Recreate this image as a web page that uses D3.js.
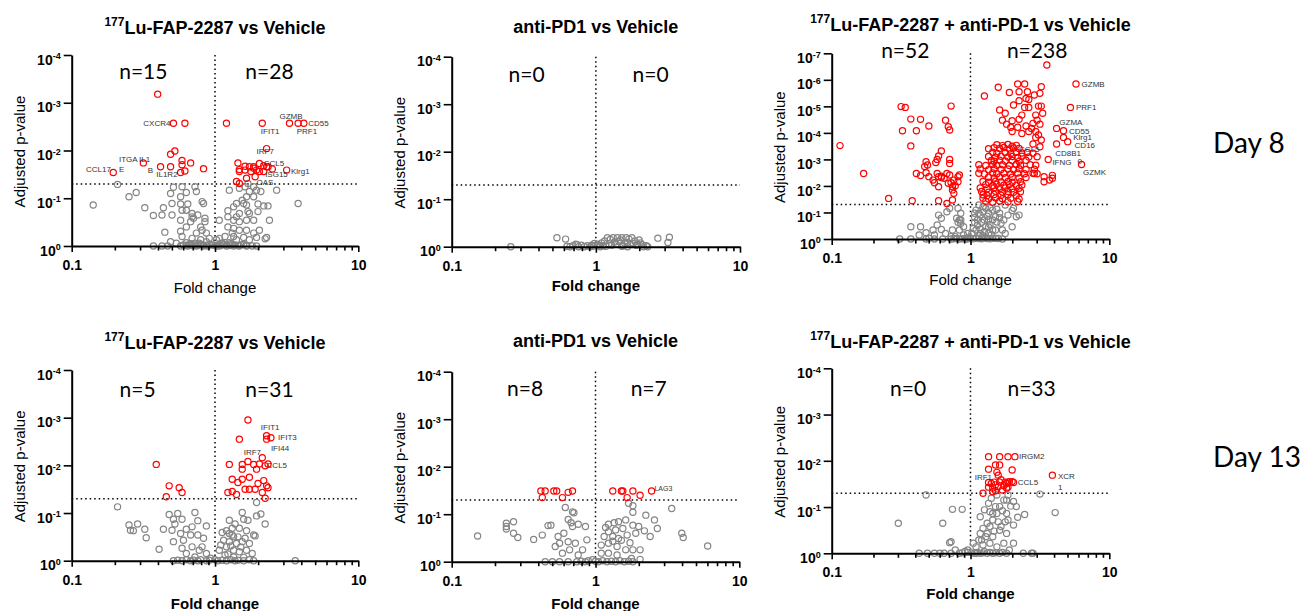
<!DOCTYPE html>
<html>
<head>
<meta charset="utf-8">
<script src="https://cdn.jsdelivr.net/npm/d3@7"></script>
<style>
  body { margin: 0; background: #fff; }
  svg { display: block; }
  .tick text { font-family: "Liberation Sans", Arial, sans-serif; font-weight: bold; }
</style>
</head>
<body>
<svg width="1311" height="611"></svg>
<script>

// values are [log10 fold change, -log10 adjusted p-value]

// ---- Day 8, 177Lu-FAP-2287 vs Vehicle
var d8_lu_sig = [
  [-0.40,3.18],[-0.29,2.57],[-0.21,2.57],[-0.28,1.99],[-0.31,1.92],[-0.23,1.79],[-0.23,1.70],[-0.17,1.74],
  [-0.31,1.66],[-0.38,1.66],[-0.50,1.74],[-0.71,1.54],[-0.21,1.57],[-0.24,1.54],[-0.08,1.62],
  [0.08,2.57],[0.33,2.57],[0.52,2.57],[0.58,2.57],[0.62,2.57],[0.36,2.04],[0.16,1.74],[0.21,1.67],
  [0.24,1.66],[0.27,1.66],[0.31,1.73],[0.34,1.68],[0.37,1.66],[0.40,1.61],[0.29,1.59],[0.25,1.56],
  [0.21,1.59],[0.17,1.60],[0.17,1.56],[0.31,1.56],[0.34,1.56],[0.50,1.59],[0.22,1.42],[0.15,1.35],
  [0.17,1.31],[0.28,1.45],[0.27,1.63],[0.36,1.66]
];
var d8_lu_ns = [
  [-0.68,1.29],[-0.60,1.03],[-0.55,1.12],[-0.85,0.86],[-0.49,0.80],[-0.43,0.64],[-0.36,0.80],[-0.31,1.10],
  [-0.29,1.23],[-0.23,1.24],[-0.20,1.12],[-0.24,1.03],[-0.30,0.89],[-0.24,0.88],[-0.19,0.88],[-0.13,1.14],
  [-0.14,1.24],[-0.09,0.93],[-0.08,0.89],[-0.23,0.75],[-0.20,0.75],[-0.16,0.68],[-0.15,0.58],[-0.17,0.51],
  [-0.24,0.54],[-0.30,0.65],[-0.37,0.65],[-0.35,0.29],[-0.24,0.31],[-0.20,0.40],[-0.23,0.20],[-0.16,0.16],
  [-0.13,0.27],[-0.09,0.33],[-0.07,0.51],[-0.07,0.58],[-0.06,0.09],[-0.10,0.13],[-0.14,0.06],[-0.20,0.07],
  [-0.27,0.06],[-0.31,0.09],[-0.33,0],[-0.37,0],[-0.43,0],[-0.24,0],[-0.19,0],[-0.13,0],[-0.08,0],[-0.05,0],
  [-0.16,0.61],[-0.12,0.65],[-0.10,0.40],[-0.06,0.27],[-0.04,0.16],
  [0.10,1.17],[0.17,1.21],[0.21,1.24],[0.23,1.31],[0.27,1.24],[0.29,1.17],[0.32,1.14],[0.24,1.14],
  [0.22,1.03],[0.19,0.96],[0.15,0.89],[0.20,0.89],[0.27,1.03],[0.30,0.88],[0.34,0.84],[0.37,0.84],
  [0.43,1.17],[0.58,0.89],[0.30,0.72],[0.23,0.72],[0.22,0.86],[0.13,0.82],[0.09,0.74],[0.22,0.54],
  [0.17,0.51],[0.13,0.54],[0.03,0.54],[0.09,0.40],[0.13,0.37],[0.17,0.33],[0.22,0.33],[0.27,0.27],
  [0.31,0.33],[0.38,0.54],[0.27,0.54],[0.24,0.68],[0.17,0.68],[0.12,0.27],[0.07,0.20],[0.03,0.16],
  [0.01,0.13],[0.05,0.06],[0.10,0.07],[0.15,0.13],[0.20,0.18],[0.24,0.13],[0.13,0.20],[0.29,0.18],
  [0.36,0.18],[0.35,0.15],[0.15,0.61],[0.09,0.61],[0.03,0],[0.08,0],[0.13,0],[0.17,0],[0.22,0],
  [0.26,0],[0.29,0],[0.01,0],
  [-0.22,0.02],[-0.20,0.01],[-0.18,0.03],[-0.16,0.01],[-0.14,0.02],[-0.12,0.01],[-0.10,0.03],[-0.08,0.02],
  [-0.06,0.01],[-0.04,0.03],[-0.02,0.02],[0.00,0.01],[0.02,0.02],[0.04,0.01],[0.06,0.03],[0.08,0.02],
  [0.10,0.01],[0.12,0.03],[0.14,0.02],[0.16,0.01],[0.18,0.02],[0.20,0.03],[0.22,0.01],[0.11,0.05],
  [0.05,0.06],[-0.11,0.06],[-0.17,0.05]
];
var d8_lu_labels = [
  ["CXCR4",-0.50,2.58],["GZMB",0.45,2.71],["CD55",0.65,2.58],["IFIT1",0.32,2.41],["PRF1",0.57,2.41],
  ["IRF7",0.29,1.99],["CCL5",0.34,1.73],["ISG15",0.35,1.50],["OAS",0.29,1.33],["Klrg1",0.53,1.56],
  ["ITGA",-0.67,1.81],["E",-0.67,1.61],["IL1",-0.53,1.81],["B",-0.47,1.59],["CCL17",-0.90,1.61],
  ["IL1R2",-0.41,1.51]
];

// ---- Day 8, anti-PD1 vs Vehicle
var d8_pd1_sig = [];
var d8_pd1_ns = [
  [-0.59,0],[-0.27,0.19],[-0.21,0.16],[-0.16,0.02],[-0.14,0.05],[-0.12,0],[-0.10,0.03],[-0.08,0],
  [-0.06,0.02],[-0.04,0],[-0.02,0.01],[0.02,0.03],[0.04,0.08],[0.06,0.12],[0.08,0.19],[0.10,0.15],
  [0.12,0.19],[0.13,0.10],[0.15,0.19],[0.17,0.14],[0.18,0.19],[0.20,0.08],[0.21,0.19],[0.23,0.16],
  [0.24,0.05],[0.25,0.19],[0.27,0.12],[0.28,0.03],[0.30,0.14],[0.31,0.08],[0.33,0],[0.35,0.02],
  [0.36,0],[0.43,0.18],[0.50,0.09],[0.51,0.20],[0.14,0.05],[0.09,0.06],[0.07,0.01],[0.19,0.02],
  [0.22,0.09],[0.26,0.07],[0.11,0.03],[0.16,0.11],[0.03,0],[0.05,0.02],[0.01,0.05],[-0.01,0.07],
  [-0.03,0.03],[0.29,0.05],[-0.18,0],[-0.20,0.01],[-0.13,0.04],[0.18,0.01],[0.22,0],[0.32,0.04]
];
var d8_pd1_labels = [];

// ---- Day 8, 177Lu-FAP-2287 + anti-PD-1 vs Vehicle
var d8_combo_sig = [
  [-0.94,3.52],[-0.77,2.47],[-0.59,1.53],[-0.49,4.08],[-0.50,4.99],[-0.47,4.96],[-0.43,3.51],[-0.39,4.08],
  [-0.43,4.52],[-0.36,4.51],[-0.30,4.26],[-0.18,4.48],[-0.14,5.01],[-0.16,4.23],[-0.15,4.11],[-0.21,3.32],
  [-0.23,3.13],[-0.24,3.00],[-0.15,3.00],[-0.15,2.85],[-0.32,2.91],[-0.31,2.79],[-0.33,2.73],[-0.36,2.39],
  [-0.32,2.50],[-0.30,2.35],[-0.26,2.12],[-0.24,2.47],[-0.23,2.35],[-0.21,2.32],[-0.17,2.47],[-0.15,2.41],
  [-0.14,2.12],[-0.09,2.35],[-0.08,2.41],[-0.09,2.16],[-0.11,2.01],[-0.13,1.85],[-0.12,1.72],[-0.16,2.10],
  [-0.23,1.97],[-0.21,2.37],[-0.42,1.44],[-0.23,1.44],[-0.17,1.34],[-0.13,1.47],[-0.39,2.47],[-0.27,2.22],
  [-0.12,2.22],[-0.19,2.29],[-0.13,1.97],[-0.25,2.88],
  [0.55,6.56],[0.76,5.84],[0.72,4.96],[0.62,4.17],[0.67,4.08],[0.67,3.83],[0.70,3.67],[0.62,3.58],
  [0.56,3.00],[0.80,2.81],[0.20,5.72],[0.34,5.84],[0.39,5.84],[0.28,5.52],[0.35,5.55],[0.51,5.74],
  [0.41,5.55],[0.46,5.43],[0.50,5.49],[0.10,5.39],[0.40,5.30],[0.42,5.26],[0.35,5.21],[0.31,5.05],
  [0.21,4.86],[0.25,4.74],[0.23,4.48],[0.30,4.46],[0.35,4.51],[0.42,4.96],[0.49,5.01],[0.51,5.01],
  [0.52,4.74],[0.47,4.67],[0.39,4.96],[0.37,4.67],[0.48,4.48],[0.45,4.36],[0.50,4.33],[0.44,4.17],
  [0.47,4.05],[0.40,4.26],[0.34,4.21],[0.30,4.05],[0.26,4.33],[0.29,4.21],[0.49,3.92],[0.47,3.83],
  [0.50,3.48],[0.51,3.73],[0.45,3.58],[0.37,3.98],[0.42,4.05],
  [0.19,3.55],[0.23,3.52],[0.27,3.56],[0.30,3.50],[0.33,3.53],
  [0.13,3.40],[0.17,3.44],[0.21,3.41],[0.24,3.45],[0.28,3.39],[0.31,3.43],[0.35,3.41],
  [0.16,3.27],[0.19,3.23],[0.25,3.26],[0.29,3.22],[0.33,3.27],[0.37,3.24],[0.41,3.26],[0.45,3.23],
  [0.13,3.11],[0.18,3.08],[0.22,3.12],[0.27,3.09],[0.30,3.11],[0.34,3.07],[0.37,3.12],[0.42,3.09],[0.48,3.10],
  [0.15,2.96],[0.17,2.93],[0.21,2.97],[0.25,2.94],[0.30,2.96],[0.35,2.93],[0.40,2.97],
  [0.06,2.80],[0.11,2.77],[0.16,2.81],[0.19,2.78],[0.23,2.80],[0.28,2.77],[0.33,2.81],[0.36,2.78],[0.43,2.80],[0.47,2.78],
  [0.07,2.64],[0.13,2.61],[0.17,2.65],[0.22,2.62],[0.27,2.64],[0.31,2.61],[0.35,2.65],[0.40,2.62],[0.46,2.63],
  [0.06,2.48],[0.10,2.45],[0.16,2.49],[0.19,2.46],[0.24,2.48],[0.29,2.45],[0.34,2.49],[0.39,2.46],[0.45,2.48],[0.48,2.46],
  [0.13,2.33],[0.17,2.30],[0.21,2.34],[0.25,2.31],[0.30,2.33],[0.35,2.30],[0.40,2.32],
  [0.09,2.17],[0.13,2.14],[0.18,2.18],[0.22,2.15],[0.27,2.17],[0.30,2.14],[0.36,2.16],
  [0.11,2.05],[0.16,2.02],[0.19,2.06],[0.24,2.03],[0.28,2.05],[0.33,2.02],[0.37,2.04],
  [0.07,1.92],[0.12,1.89],[0.17,1.93],[0.21,1.90],[0.25,1.92],[0.30,1.89],[0.35,1.91],
  [0.08,1.79],[0.13,1.76],[0.18,1.80],[0.23,1.77],[0.27,1.79],[0.31,1.76],[0.36,1.78],
  [0.09,1.67],[0.12,1.64],[0.17,1.68],[0.22,1.65],[0.27,1.67],[0.33,1.64],
  [0.09,1.54],[0.13,1.51],[0.18,1.55],[0.23,1.52],[0.29,1.54],[0.35,1.51],
  [0.11,1.42],[0.16,1.39],[0.21,1.43],[0.27,1.40],[0.34,1.41],
  [0.53,2.35],[0.53,2.16],[0.57,2.22],[0.59,2.29],[0.59,2.40],[0.46,2.47]
];
var d8_combo_ns = [
  [-0.51,0],[-0.43,0],[-0.32,0],[-0.26,0],[-0.20,0],[-0.14,0],[-0.08,0],[-0.03,0],[-0.36,0.46],[-0.32,0.24],
  [-0.27,0.34],[-0.24,0.53],[-0.21,0.78],[-0.17,1.03],[-0.15,1.16],[-0.23,0.90],[-0.09,1.16],[-0.08,0.72],
  [-0.07,0.97],[-0.07,0.59],[-0.08,0.34],[-0.13,0.34],[-0.18,0.21],[-0.21,0.36],[-0.26,0.15],[-0.30,0.03],
  [-0.14,0.09],[-0.05,0.15],[-0.02,0.21],[-0.05,0.46],[-0.37,0.15],[-0.43,0.46],[-0.10,0.78],[-0.07,0.72],
  [-0.09,0.63],[-0.11,0.09],[-0.01,0.06],
  [0.06,1.28],[0.09,1.22],[0.11,1.16],[0.13,0.97],[0.16,1.09],[0.18,0.84],[0.21,0.97],[0.24,0.72],
  [0.25,0.21],[0.30,0.46],[0.33,0.84],[0.35,0.90],[0.30,1.07],[0.16,0.72],[0.11,0.46],[0.07,0.21],
  [0.04,0.03],[0.09,0.03],[0.16,0.03],[0.23,0],[0.13,0.21],[0.18,0.34],[0.23,0.34],[0.04,0.34],
  [0.05,0.72],[0.03,0.97],[0.07,0.90],[0.25,1.28],[0.31,1.16],[0.27,0.90],[0.22,0.59],[0.16,0.34],
  [0.13,0.72],[0.10,0.72],[0.06,0.97],[0.04,1.09],[0.01,0.21],[0.18,0.03],[0.11,0.06],
  [-0.12,0.01],[-0.10,0.02],[-0.06,0.01],[-0.04,0.02],[-0.02,0.01],[0.00,0.02],[0.02,0.01],[0.06,0.02],
  [0.08,0.01],[0.12,0.02],[0.14,0.01],[0.20,0.02],[0.09,0.12],[0.02,0.40],[0.14,0.55],[0.19,0.64],
  [0.03,0.62],[0.05,0.52],[0.08,0.63],[0.07,0.37],[0.10,0.28],[0.12,0.86],[0.09,1.02],[0.14,1.18],
  [0.19,1.12],[0.03,0.81],[0.06,0.12],[0.13,0.45],[0.21,0.80],[0.15,0.16]
];
var d8_combo_labels = [
  ["GZMB",0.80,5.84],["PRF1",0.76,4.95],["GZMA",0.64,4.40],["CD55",0.71,4.07],["Klrg1",0.74,3.82],
  ["CD16",0.75,3.54],["CD8B1",0.61,3.22],["0",0.77,2.92],["CCL5",0.35,3.39],["IFNG",0.59,2.91],
  ["GZMK",0.81,2.53]
];

// ---- Day 13, 177Lu-FAP-2287 vs Vehicle
var d13_lu_sig = [
  [-0.41,2.02],[-0.32,1.57],[-0.25,1.53],[-0.23,1.43],[-0.34,1.34],
  [0.23,2.95],[0.36,2.62],[0.39,2.58],[0.36,2.55],[0.17,2.55],[0.33,2.16],[0.10,2.02],[0.19,2.02],
  [0.23,2.08],[0.27,2.02],[0.31,2.03],[0.35,1.99],[0.37,2.03],[0.19,1.92],[0.29,1.92],[0.24,1.75],
  [0.19,1.71],[0.12,1.71],[0.16,1.64],[0.34,1.68],[0.30,1.62],[0.36,1.57],[0.37,1.53],[0.21,1.50],
  [0.24,1.50],[0.28,1.50],[0.09,1.43],[0.12,1.45],[0.15,1.39],[0.33,1.43],[0.35,1.31]
];
var d13_lu_ns = [
  [-0.68,1.13],[-0.60,0.75],[-0.57,0.63],[-0.54,0.77],[-0.49,0.66],[-0.48,0.48],[-0.59,0.64],[-0.39,0.24],
  [-0.36,0.66],[-0.32,0.97],[-0.29,0.87],[-0.26,0.99],[-0.28,0.77],[-0.30,0.64],[-0.23,0.87],[-0.20,0.66],
  [-0.16,0.71],[-0.14,1.01],[-0.12,0.84],[-0.06,0.73],[-0.24,0.57],[-0.17,0.54],[-0.12,0.54],[-0.08,0.47],
  [-0.29,0.40],[-0.23,0.26],[-0.16,0.29],[-0.11,0.22],[-0.20,0.15],[-0.06,0.15],[-0.14,0.08],[-0.29,0],
  [-0.23,0],[-0.17,0],[-0.12,0],[-0.06,0],[-0.03,0.05],[-0.09,0.29],[-0.22,0.43],
  [0.19,1.01],[0.20,0.87],[0.29,1.22],[0.32,0.98],[0.35,0.77],[0.29,0.94],[0.23,0.85],[0.10,0.85],
  [0.14,0.77],[0.12,0.68],[0.17,0.68],[0.22,0.63],[0.05,0.59],[0.08,0.63],[0.12,0.54],[0.16,0.50],
  [0.21,0.47],[0.27,0.54],[0.06,0.43],[0.10,0.40],[0.15,0.36],[0.19,0.40],[0.24,0.36],[0.28,0.52],
  [0.03,0.22],[0.08,0.29],[0.13,0.22],[0.17,0.19],[0.22,0.22],[0.26,0.15],[0.07,0.12],[0.13,0.08],
  [0.20,0.07],[0.02,0],[0.08,0],[0.14,0],[0.20,0],[0.27,0],[0.56,0],[0.13,0.50],[0.10,0.57],
  [-0.26,0.01],[-0.20,0.02],[-0.15,0.01],[-0.10,0.02],[-0.04,0.01],[0.00,0.02],[0.05,0.01],[0.11,0.02],
  [0.16,0.01],[0.24,0.02],[0.04,0.33],[0.09,0.14],[0.18,0.29],[0.11,0.31]
];
var d13_lu_labels = [
  ["IFIT1",0.32,2.80],["IFIT3",0.44,2.59],["IFI44",0.39,2.36],["IRF7",0.20,2.27],["CCL5",0.36,2.00]
];

// ---- Day 13, anti-PD1 vs Vehicle
var d13_pd1_sig = [
  [-0.38,1.49],[-0.35,1.49],[-0.29,1.49],[-0.27,1.49],[-0.19,1.46],[-0.16,1.49],[-0.37,1.35],[-0.23,1.35],
  [0.12,1.49],[0.18,1.49],[0.19,1.49],[0.26,1.49],[0.39,1.49],[0.31,1.40],[0.22,1.35]
];
var d13_pd1_ns = [
  [-0.82,0.54],[-0.62,0.81],[-0.62,0.74],[-0.62,0.69],[-0.57,0.84],[-0.57,0.60],[-0.54,0.51],[-0.43,0.47],
  [-0.37,0.56],[-0.33,0.76],[-0.31,0.77],[-0.21,1.14],[-0.16,1.05],[-0.15,1.03],[-0.19,0.89],[-0.17,0.82],
  [-0.16,0.74],[-0.12,0.79],[-0.07,0.74],[-0.26,0.53],[-0.22,0.60],[-0.19,0.42],[-0.14,0.39],[-0.09,0.25],
  [-0.06,0.46],[-0.28,0.32],[-0.23,0.18],[-0.18,0.25],[-0.12,0.14],[-0.35,0],[-0.30,0],[-0.25,0],
  [-0.19,0],[-0.13,0],[-0.07,0],[-0.02,0.04],[-0.25,0.39],
  [0.23,1.23],[0.26,1.18],[0.26,1.04],[0.35,0.98],[0.41,0.88],[0.53,1.12],[0.43,0.70],[0.38,0.53],
  [0.60,0.60],[0.61,0.51],[0.78,0.33],[0.09,0.79],[0.13,0.82],[0.16,0.84],[0.21,0.88],[0.09,0.63],
  [0.14,0.67],[0.19,0.70],[0.26,0.77],[0.30,0.74],[0.34,0.65],[0.06,0.53],[0.12,0.53],[0.16,0.49],
  [0.22,0.56],[0.28,0.60],[0.04,0.35],[0.09,0.39],[0.15,0.32],[0.21,0.25],[0.26,0.25],[0.31,0.05],
  [0.25,0.07],[0.04,0.18],[0.09,0.18],[0.15,0.14],[0.02,0],[0.08,0],[0.14,0],[0.20,0],[0.26,0],[0.31,0.25],
  [-0.10,0.01],[-0.05,0.02],[0.00,0.01],[0.05,0.02],[0.11,0.01],[0.17,0.02],[0.23,0.01],[0.12,0.43],
  [0.18,0.45],[0.07,0.72],[0.24,0.40]
];
var d13_pd1_labels = [["LAG3",0.41,1.54]];

// ---- Day 13, 177Lu-FAP-2287 + anti-PD-1 vs Vehicle
var d13_combo_sig = [
  [0.13,2.09],[0.21,2.09],[0.27,2.09],[0.32,2.09],[0.18,1.91],[0.21,1.91],[0.13,1.82],[0.30,1.80],
  [0.19,1.75],[0.20,1.69],[0.59,1.69],[0.13,1.53],[0.17,1.54],[0.21,1.54],[0.25,1.54],[0.27,1.54],
  [0.30,1.55],[0.26,1.51],[0.18,1.48],[0.24,1.46],[0.27,1.43],[0.13,1.43],[0.16,1.41],[0.20,1.44],
  [0.23,1.37],[0.09,1.30],[0.16,1.33],[0.18,1.35],[0.26,1.41],[0.28,1.55],[0.31,1.53],[0.15,1.51],
  [0.22,1.59]
];
var d13_combo_ns = [
  [-0.52,0.65],[-0.32,1.26],[-0.20,0.65],[-0.13,0.95],[-0.06,0.95],[-0.37,0],[-0.31,0],[-0.26,0],
  [-0.22,0],[-0.19,0],[-0.15,0.23],[-0.14,0.25],[-0.11,0.07],[-0.08,0],[-0.04,0.04],[-0.14,0],
  [0.50,1.28],[0.61,0.88],[0.39,0.84],[0.34,0.78],[0.38,0],[0.45,0],[0.44,0],
  [0.03,0],[0.07,0],[0.12,0],[0.16,0],[0.21,0],[0.26,0],[0.04,0.14],[0.08,0.29],[0.12,0.43],
  [0.14,0.58],[0.16,0.72],[0.19,0.86],[0.21,1.01],[0.24,1.15],[0.27,1.26],[0.07,0.79],[0.10,0.94],
  [0.13,1.08],[0.15,1.19],[0.19,1.26],[0.26,1.15],[0.31,1.12],[0.33,1.01],[0.26,0.86],[0.25,0.68],
  [0.26,0.43],[0.21,0.50],[0.16,0.36],[0.14,0.22],[0.19,0.14],[0.24,0.22],[0.31,0.22],[0.09,0.54],
  [0.07,0.43],[0.06,0.29],[0.12,0.65],[0.16,0.86],[0.20,0.68],[0.22,0.58],[0.27,0.72],[0.31,0.61],
  [0.04,0],[-0.02,0.07],[0.02,0.22],[0.28,0.07],[0.18,1.01],[0.14,0.90],
  [-0.06,0.01],[-0.02,0.02],[0.01,0.01],[0.05,0.02],[0.09,0.01],[0.10,0.04],[0.14,0.02],[0.18,0.01],
  [0.23,0.02],[0.11,0.36],[0.17,0.48],[0.09,0.18],[0.23,0.92],[0.29,1.02]
];
var d13_combo_labels = [
  ["IRGM2",0.35,2.09],["IRF1",0.03,1.64],["CCL5",0.34,1.53],["XCR",0.63,1.67],["1",0.63,1.44]
];

// panel texts
var titleIso  = ["177", "", "177", "177", "", "177"];
var titleText = ["Lu-FAP-2287 vs Vehicle", "anti-PD1 vs Vehicle", "Lu-FAP-2287 + anti-PD-1 vs Vehicle",
                 "Lu-FAP-2287 vs Vehicle", "anti-PD1 vs Vehicle", "Lu-FAP-2287 + anti-PD-1 vs Vehicle"];
var nDown = [15, 0, 52, 5, 8, 0];
var nUp   = [28, 0, 238, 31, 7, 33];
var yMinExp = [-4, -4, -7, -4, -4, -4];
var xTickLabels = ["0.1", "1", "10"];
var dayLabels = ["Day 8", "Day 13"];
var pCutoff = 0.05;

var sigSets = [d8_lu_sig, d8_pd1_sig, d8_combo_sig, d13_lu_sig, d13_pd1_sig, d13_combo_sig];
var nsSets = [d8_lu_ns, d8_pd1_ns, d8_combo_ns, d13_lu_ns, d13_pd1_ns, d13_combo_ns];
var labelSets = [d8_lu_labels, d8_pd1_labels, d8_combo_labels, d13_lu_labels, d13_pd1_labels, d13_combo_labels];

// layout (pixels)
var boxes = [
  {left:71.7, right:358.3, top:55, bottom:246, titleY:31, xlabY:293, xlabBold:false, nY:24, nX:[-0.5,0.38], lab:8},
  {left:451.7, right:740, top:56.7, bottom:246.7, titleY:33, xlabY:291, xlabBold:true, nY:25, nX:[-0.48,0.38], lab:8},
  {left:831.7, right:1109.3, top:53.3, bottom:239, titleY:28, xlabY:285, xlabBold:false, nY:5, nX:[-0.47,0.48], lab:8},
  {left:71.7, right:358.3, top:370, bottom:560.7, titleY:346, xlabY:609, xlabBold:true, nY:27, nX:[-0.54,0.38], lab:8},
  {left:451.7, right:739.3, top:371.7, bottom:561.7, titleY:347, xlabY:609, xlabBold:true, nY:24, nX:[-0.49,0.37], lab:7},
  {left:831.7, right:1109.3, top:368.3, bottom:553.3, titleY:345, xlabY:599, xlabBold:true, nY:28, nX:[-0.45,0.44], lab:8}
];
var dayPos = [{x:1213, y:153}, {x:1213, y:467}];

var svg = d3.select("svg");
var sans = "'Liberation Sans', Arial, sans-serif";
var calib = "Lato, 'Open Sans', sans-serif";

boxes.forEach(function(b, i){
  var g = svg.append("g");
  var x = d3.scaleLog().domain([0.1, 10]).range([b.left, b.right]);
  var y = d3.scaleLog().domain([1, Math.pow(10, yMinExp[i])]).range([b.bottom, b.top]);

  // threshold lines
  g.append("line")
    .attr("x1", x(1)).attr("x2", x(1)).attr("y1", y.range()[1]).attr("y2", y.range()[0])
    .attr("stroke", "#000").attr("stroke-width", 1.5).attr("stroke-dasharray", "1.5,3");
  g.append("line")
    .attr("x1", x(0.1)).attr("x2", x(10)).attr("y1", y(pCutoff)).attr("y2", y(pCutoff))
    .attr("stroke", "#000").attr("stroke-width", 1.5).attr("stroke-dasharray", "1.5,3");

  // points
  g.append("g").selectAll("circle")
    .data(nsSets[i])
    .enter().append("circle")
      .attr("cx", function(d){ return x(Math.pow(10, d[0])); })
      .attr("cy", function(d){ return y(Math.pow(10, -d[1])); })
      .attr("r", 3.1)
      .attr("fill", "none")
      .attr("stroke", "#858585")
      .attr("stroke-width", 1.2);
  g.append("g").selectAll("circle")
    .data(sigSets[i])
    .enter().append("circle")
      .attr("cx", function(d){ return x(Math.pow(10, d[0])); })
      .attr("cy", function(d){ return y(Math.pow(10, -d[1])); })
      .attr("r", 3.1)
      .attr("fill", "none")
      .attr("stroke", "#ff0000")
      .attr("stroke-width", 1.2);

  // gene labels
  g.append("g").selectAll("text")
    .data(labelSets[i])
    .enter().append("text")
      .attr("x", function(d){ return x(Math.pow(10, d[1])); })
      .attr("y", function(d){ return y(Math.pow(10, -d[2])); })
      .attr("dy", "0.35em")
      .style("font", b.lab + "px " + sans)
      .attr("fill", "#333")
      .text(function(d){ return d[0]; });

  // x axis with log minor ticks
  var xt = [];
  [0.1, 1].forEach(function(dec){ for (var k = 1; k < 10; k++) xt.push(dec * k); });
  xt.push(10);
  var xAxis = g.append("g")
    .attr("transform", "translate(0," + b.bottom + ")")
    .call(d3.axisBottom(x).tickValues(xt).tickSize(6).tickSizeOuter(0).tickPadding(8)
      .tickFormat(function(d){
        var e = Math.round(Math.log10(d));
        return Math.abs(Math.log10(d) - e) < 1e-6 ? xTickLabels[e + 1] : "";
      }));
  xAxis.select(".domain").attr("stroke-width", 2);
  xAxis.selectAll(".tick line").attr("stroke-width", 1.6)
    .attr("y2", function(d){ var e = Math.log10(d); return Math.abs(e - Math.round(e)) < 1e-6 ? 6 : 4.5; });
  xAxis.selectAll(".tick text").attr("font-size", 14).style("font-size", "14px").attr("fill", "#000");

  // y axis, powers of ten
  var yt = d3.range(0, yMinExp[i] - 1, -1).map(function(e){ return Math.pow(10, e); });
  var yAxis = g.append("g")
    .attr("transform", "translate(" + b.left + ",0)")
    .call(d3.axisLeft(y).tickValues(yt).tickSize(8).tickSizeOuter(0).tickPadding(3).tickFormat(""));
  yAxis.select(".domain").attr("stroke-width", 2);
  yAxis.selectAll(".tick line").attr("stroke-width", 1.6);
  yAxis.selectAll(".tick text").each(function(d){
    var t = d3.select(this).attr("dy", "0.65em").attr("font-size", 14).style("font-size", "14px").attr("fill", "#000");
    t.append("tspan").text("10");
    t.append("tspan").attr("dy", "-0.6em").style("font-size", "9px")
      .text(String(Math.round(Math.log10(d))));
  });

  // titles
  var tt = g.append("text")
    .attr("x", x(1)).attr("y", b.titleY)
    .attr("text-anchor", "middle")
    .style("font", "bold 18px " + sans);
  if (titleIso[i]) {
    tt.append("tspan").attr("dy", "-0.45em").style("font-size", "12px").text(titleIso[i]);
    tt.append("tspan").attr("dy", "0.45em").text(titleText[i]);
  } else {
    tt.append("tspan").text(titleText[i]);
  }

  // axis titles
  g.append("text")
    .attr("transform", "translate(" + (b.left - 47) + "," + ((b.top + b.bottom) / 2 + 1) + ") rotate(-90)")
    .attr("text-anchor", "middle")
    .style("font", "15px " + sans)
    .text("Adjusted p-value");
  g.append("text")
    .attr("x", x(1)).attr("y", b.xlabY)
    .attr("text-anchor", "middle")
    .style("font", (b.xlabBold ? "bold " : "") + "15px " + sans)
    .text("Fold change");

  // counts of significant genes
  g.append("text")
    .attr("x", x(Math.pow(10, b.nX[0]))).attr("y", b.top + b.nY)
    .attr("text-anchor", "middle")
    .style("font", "21px " + calib)
    .text("n=" + nDown[i]);
  g.append("text")
    .attr("x", x(Math.pow(10, b.nX[1]))).attr("y", b.top + b.nY)
    .attr("text-anchor", "middle")
    .style("font", "21px " + calib)
    .text("n=" + nUp[i]);
});

svg.selectAll(".day")
  .data(dayLabels)
  .enter().append("text")
    .attr("class", "day")
    .attr("x", function(d, i){ return dayPos[i].x; })
    .attr("y", function(d, i){ return dayPos[i].y; })
    .style("font", "28px " + calib)
    .text(function(d){ return d; });

</script>
</body>
</html>
